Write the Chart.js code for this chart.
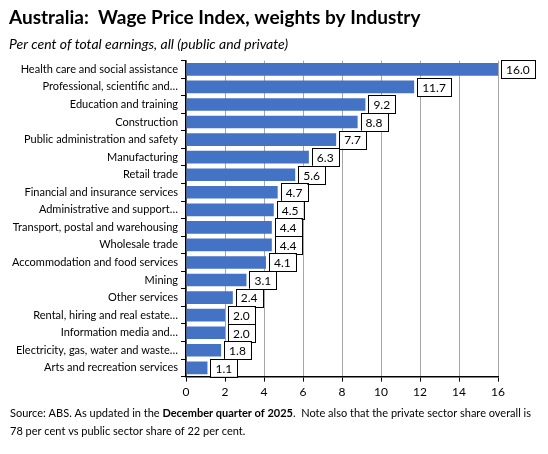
<!DOCTYPE html>
<html><head><meta charset="utf-8">
<script src="https://cdn.jsdelivr.net/npm/chart.js@4.4.1/dist/chart.umd.min.js"></script>
<style>html,body{margin:0;padding:0;background:#fff}#wrap{width:548px;height:454px;position:relative}</style>
</head><body><div id="wrap"><canvas id="c"></canvas></div>
<script>
const categories = [
  "Health care and social assistance",
  "Professional, scientific and…",
  "Education and training",
  "Construction",
  "Public administration and safety",
  "Manufacturing",
  "Retail trade",
  "Financial and insurance services",
  "Administrative and support…",
  "Transport, postal and warehousing",
  "Wholesale trade",
  "Accommodation and food services",
  "Mining",
  "Other services",
  "Rental, hiring and real estate…",
  "Information media and…",
  "Electricity, gas, water and waste…",
  "Arts and recreation services"
];
const weights = [16.0, 11.7, 9.2, 8.8, 7.7, 6.3, 5.6, 4.7, 4.5, 4.4, 4.4, 4.1, 3.1, 2.4, 2.0, 2.0, 1.8, 1.1];
const xTicks = [0, 2, 4, 6, 8, 10, 12, 14, 16];
const titleText = "Australia:  Wage Price Index, weights by Industry";
const subtitleText = "Per cent of total earnings, all (public and private)";
const footerParts = [
  [["Source: ABS. As updated in the ", false], ["December quarter of 2025", true], [".  Note also that the private sector share overall is", false]],
  [["78 per cent vs public sector share of 22 per cent.", false]]
];

const FONT = "Lato, 'Liberation Sans', sans-serif";

const labelPlugin = {
  id: 'labels',
  afterDatasetsDraw(chart) {
    const ctx = chart.ctx;
    const meta = chart.getDatasetMeta(0);
    ctx.save();
    ctx.font = "12px " + FONT;
    ctx.textBaseline = 'middle';
    meta.data.forEach((bar, i) => {
      const txt = weights[i].toFixed(1);
      const w = ctx.measureText(txt).width + 10;
      const h = 18;
      const x = bar.x + 3;
      const y = bar.y - h / 2;
      ctx.fillStyle = '#fff';
      ctx.fillRect(x, y, w, h);
      ctx.strokeStyle = '#000';
      ctx.lineWidth = 1;
      ctx.strokeRect(Math.round(x) + 0.5, Math.round(y) + 0.5, Math.round(w), h);
      ctx.fillStyle = '#000';
      ctx.textAlign = 'left';
      ctx.fillText(txt, x + 5, bar.y + 1);
    });
    ctx.restore();
  },
  afterDraw(chart) {
    const ctx = chart.ctx;
    ctx.save();
    ctx.textBaseline = 'middle';
    ctx.textAlign = 'left';
    ctx.fillStyle = '#000';
    const ys = [413, 431];
    footerParts.forEach((line, li) => {
      let x = 10;
      line.forEach(([t, b]) => {
        ctx.font = (b ? "bold " : "") + "11px " + FONT;
        ctx.fillText(t, x, ys[li]);
        x += ctx.measureText(t).width;
      });
    });
    ctx.restore();
  }
};

new Chart(document.getElementById('c'), {
  type: 'bar',
  data: {
    labels: categories,
    datasets: [{
      data: weights,
      backgroundColor: '#4472C4',
      categoryPercentage: 1,
      barPercentage: 0.72
    }]
  },
  options: {
    indexAxis: 'y',
    responsive: true,
    maintainAspectRatio: false,
    animation: false,
    layout: { padding: { left: 9, right: 50, top: 0, bottom: 52 } },
    plugins: {
      legend: { display: false },
      tooltip: { enabled: false },
      title: {
        display: true, text: titleText, align: 'start',
        color: '#000', font: { family: FONT, size: 19, weight: 'bold' },
        padding: { top: 6, bottom: 4 }
      },
      subtitle: {
        display: true, text: subtitleText, align: 'start',
        color: '#000', font: { family: FONT, size: 14, style: 'italic' },
        padding: { top: 3, bottom: 8 }
      }
    },
    scales: {
      x: {
        min: 0, max: 16,
        afterBuildTicks(axis) { axis.ticks = xTicks.map(v => ({ value: v })); },
        ticks: { color: '#000', font: { family: FONT, size: 12 }, padding: 3 },
        grid: { color: '#A6A6A6', lineWidth: 1, drawTicks: true, tickLength: 5, tickColor: '#000' },
        border: { color: '#000', width: 1.5 }
      },
      y: {
        ticks: { color: '#000', font: { family: FONT, size: 11 }, padding: 3, autoSkip: false },
        grid: { drawOnChartArea: false, drawTicks: true, tickLength: 5, color: '#000' },
        border: { color: '#000', width: 1.5 }
      }
    }
  },
  plugins: [labelPlugin]
});
</script></body></html>
